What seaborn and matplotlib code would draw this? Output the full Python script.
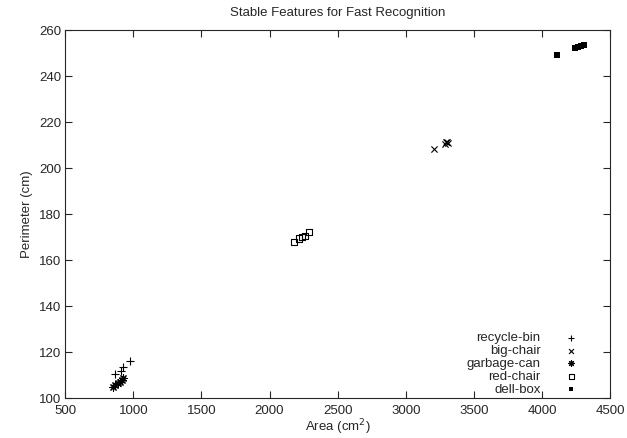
import pandas as pd
import matplotlib
matplotlib.use("Agg")
import matplotlib.pyplot as plt
import seaborn as sns

# values
recycle_bin_area = [867, 911, 926, 977]
recycle_bin_perim = [110.4, 112.0, 113.5, 116.3]

big_chair_area = [3210, 3285, 3295, 3305, 3312]
big_chair_perim = [208.4, 210.6, 211.3, 211.6, 211.0]

garbage_can_area = [852, 868, 885, 900, 915, 926]
garbage_can_perim = [104.8, 105.6, 106.5, 107.2, 107.9, 108.6]

red_chair_area = [2178, 2218, 2238, 2258, 2292]
red_chair_perim = [167.8, 169.4, 170.0, 170.6, 172.2]

dell_box_area = [4110, 4245, 4268, 4290, 4310]
dell_box_perim = [249.3, 252.2, 252.7, 253.2, 253.6]

x_ticks = [500, 1000, 1500, 2000, 2500, 3000, 3500, 4000, 4500]
y_ticks = [100, 120, 140, 160, 180, 200, 220, 240, 260]

groups = {
    "recycle-bin": (recycle_bin_area, recycle_bin_perim),
    "big-chair": (big_chair_area, big_chair_perim),
    "garbage-can": (garbage_can_area, garbage_can_perim),
    "red-chair": (red_chair_area, red_chair_perim),
    "dell-box": (dell_box_area, dell_box_perim),
}

frames = []
for name, (a, p) in groups.items():
    frames.append(pd.DataFrame({"area": a, "perimeter": p, "object": name}))
df = pd.concat(frames, ignore_index=True)

sns.set_style("ticks")
plt.rcParams["font.family"] = ["Liberation Sans", "DejaVu Sans"]

marker_style = {
    "recycle-bin": dict(marker="+", s=28, color="black", linewidth=0.8),
    "big-chair": dict(marker="x", s=20, color="black", linewidth=0.8),
    "garbage-can": dict(marker=(8, 2, 0), s=28, color="black", linewidth=0.8),
    "red-chair": dict(marker="s", s=20, facecolor="none", edgecolor="black", linewidth=0.8),
    "dell-box": dict(marker="s", s=20, color="black", linewidth=0),
}

fig = plt.figure(figsize=(6.27, 4.38), dpi=100)
ax = fig.add_axes([0.104, 0.091, 0.869, 0.840])

for name in groups:
    sub = df[df["object"] == name]
    sns.scatterplot(data=sub, x="area", y="perimeter", ax=ax, label=name,
                    **marker_style[name])

ax.set_xlim(500, 4500)
ax.set_ylim(100, 260)
ax.set_xticks(x_ticks)
ax.set_yticks(y_ticks)
ax.tick_params(direction="in", top=True, right=True, length=5, labelsize=9.5)
ax.tick_params(axis="x", pad=5)
ax.tick_params(axis="y", pad=3)
for spine in ax.spines.values():
    spine.set_linewidth(0.8)

ax.set_title("Stable Features for Fast Recognition", fontsize=9.5, pad=10)
ax.set_xlabel("Area (cm$^2$)", fontsize=9.5, labelpad=0)
ax.set_ylabel("Perimeter (cm)", fontsize=9.5, labelpad=4)

ax.legend(loc="lower right", bbox_to_anchor=(0.955, -0.015), frameon=False,
          markerfirst=False, fontsize=9.5, handletextpad=1.8, handlelength=1.0,
          labelspacing=0.05, borderaxespad=0.2, markerscale=0.8)

plt.savefig("out.png", dpi=100)
